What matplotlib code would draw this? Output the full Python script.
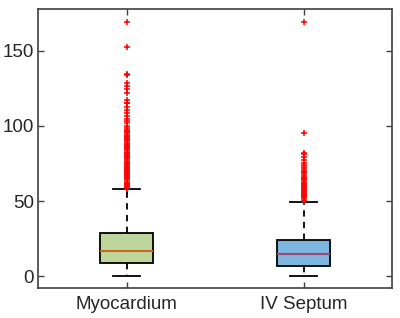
import matplotlib as mpl; mpl.use("Agg")
import matplotlib.pyplot as plt

mpl.rcParams.update({"font.family": "sans-serif",
                     "font.sans-serif": ["Liberation Sans", "DejaVu Sans"]})

# ---- data ----
labels = ["Myocardium", "IV Septum"]
q1 = [8.7, 6.7]
med = [16.7, 14.5]
q3 = [28.7, 24.0]
whislo = [0.0, 0.0]
whishi = [58.0, 49.3]
fliers_myo = [169, 152.5, 134.7, 133.8, 128.9, 126.7, 124.8, 121.8, 117, 115.5, 115,
              112.4, 110.5, 108.4, 106.7, 104.5, 103.5, 101.8, 100, 98.4, 97.5, 96.8,
              96, 95.2, 94.3, 93.5, 92.8, 92, 91.2, 90.5, 89.7, 89, 88.2, 87.5, 86.8,
              86, 85.3, 84.5, 83.8, 83, 82.3, 81.5, 80.8, 80, 79.3, 78.5, 77.8, 77,
              76.3, 75.6, 74.9, 74.2, 73.5, 72.8, 72.1, 71.4, 70.7, 70, 69.3, 68.6,
              67.9, 67.2, 66.5, 65.8, 65.1, 64.4, 63.7, 63, 62.3, 61.6, 60.9, 60.2,
              59.5, 58.8, 58.2]
fliers_sep = [169, 95, 82.2, 81.1, 79.5, 77.3, 75.5, 74.2, 73, 71.5, 70.2, 69.5,
              68.4, 67.3, 66.2, 65.4, 64.6, 63.8, 63, 62.2, 61.5, 60.8, 60.1, 59.4,
              58.7, 58, 57.3, 56.6, 55.9, 55.2, 54.5, 53.8, 53.1, 52.4, 51.7, 51,
              50.3, 49.8]
fliers = [fliers_myo, fliers_sep]

box_cols = ["#bcd69b", "#7db6df"]
med_cols = ["#d2601e", "#a0456e"]

stats = [dict(label=labels[i], q1=q1[i], med=med[i], q3=q3[i],
              whislo=whislo[i], whishi=whishi[i], fliers=fliers[i]) for i in range(2)]

fig = plt.figure(figsize=(4.0, 3.18), dpi=100)
ax = fig.add_axes([0.095, 0.094, 0.885, 0.878])
bp = ax.bxp(stats, positions=[1, 2], widths=0.3, patch_artist=True,
            boxprops=dict(edgecolor="black", linewidth=1.3),
            whiskerprops=dict(color="black", linestyle=(0, (3.5, 3)), linewidth=1.3),
            capprops=dict(color="black", linewidth=1.3),
            flierprops=dict(marker="+", markeredgecolor="red", markersize=4.5,
                            markeredgewidth=1.1, linestyle="none"),
            capwidths=0.15)
for i, b in enumerate(bp["boxes"]):
    b.set_facecolor(box_cols[i])
for i, m in enumerate(bp["medians"]):
    m.set_color(med_cols[i]); m.set_linewidth(1.5)

ax.set_xlim(0.5, 2.5)
ax.set_ylim(-8, 178)
ax.set_yticks([0, 50, 100, 150])
ax.tick_params(direction="in", length=4, width=1.0, color="#404040",
               labelsize=13.5, labelcolor="#262626", top=True, right=True)
ax.tick_params(axis="y", pad=3)
ax.tick_params(axis="x", pad=6)
for s in ax.spines.values():
    s.set_color("#404040"); s.set_linewidth(1.2)

fig.savefig("out.png", dpi=100)
